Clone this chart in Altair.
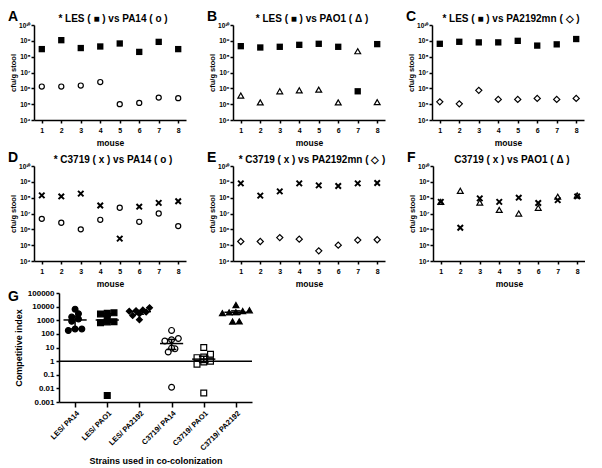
import altair as alt
import pandas as pd
import numpy as np

FONT = "Liberation Sans"
mouse = [1, 2, 3, 4, 5, 6, 7, 8]

a_les = [3.0e8, 1.1e9, 3.5e8, 4.4e8, 6.8e8, 2.0e8, 8.6e8, 3.0e8]
a_pa14 = [1.3e6, 1.3e6, 1.5e6, 2.5e6, 1.0e5, 1.2e5, 2.6e5, 2.4e5]
b_les = [4.6e8, 3.8e8, 4.2e8, 5.6e8, 6.5e8, 4.2e8, 6.5e5, 6.2e8]
b_pao1 = [3.5e5, 1.3e5, 6.5e5, 7.5e5, 8.3e5, 1.3e5, 2.2e8, 1.35e5]
c_les = [6.5e8, 8.7e8, 8.0e8, 8.0e8, 1.0e9, 5.0e8, 6.0e8, 1.3e9]
c_pa2192 = [1.4e5, 1.05e5, 7.5e5, 2.0e5, 2.0e5, 2.3e5, 2.0e5, 2.3e5]
d_c3719 = [1.4e8, 1.2e8, 1.8e8, 3.2e7, 2.6e5, 2.7e7, 4.7e7, 6.0e7]
d_pa14 = [4.6e6, 2.6e6, 1.0e6, 4.0e6, 2.3e7, 3.0e6, 1.0e7, 1.6e6]
e_c3719 = [8.0e8, 1.35e8, 2.5e8, 8.0e8, 6.0e8, 5.4e8, 8.0e8, 8.5e8]
e_pa2192 = [1.7e5, 1.7e5, 3.0e5, 2.4e5, 4.4e4, 1.0e5, 2.1e5, 2.2e5]
f_c3719 = [5.4e7, 1.25e6, 9.0e7, 5.4e7, 1.0e8, 4.6e7, 7.0e7, 1.2e8]
f_pao1 = [5.4e7, 2.7e8, 4.9e7, 1.7e7, 1.0e7, 2.3e7, 1.15e8, 1.4e8]

g_groups = ["LES/ PA14", "LES/ PAO1", "LES/ PA2192", "C3719/ PA14", "C3719/ PAO1", "C3719/ PA2192"]
g_values = [
    [230, 850, 230, 180, 6500, 1700, 3000, 1250],
    [1300, 2900, 650, 750, 780, 3200, 0.003, 3500],
    [4600, 8300, 1100, 4000, 5000, 2200, 3000, 5600],
    [30, 46, 180, 8, 0.012, 9, 4.7, 37],
    [1.0, 0.0046, 1.8, 3.2, 10, 2.0, 0.6, 0.86],
    [4700, 800, 830, 3300, 13000, 5400, 3800, 3900],
]
g_shapes = ["circle", "square", "diamond", "circle", "square", "triangle-up"]
g_fills = ["black", "black", "black", "white", "white", "black"]

XPATH = "M-1,-1L1,1M1,-1L-1,1"
SUP = "['10\u2074','10\u2075','10\u2076','10\u2077','10\u2078','10\u2079','10\u00b9\u2070']"

W, H = 152, 95


def panel(letter, title, s1, s2, shape1, shape2):
    df = pd.DataFrame({"mouse": mouse, "s1": s1, "s2": s2})
    xenc = alt.X("mouse:Q", scale=alt.Scale(domain=[0.6, 8.4], nice=False, zero=False),
                 axis=alt.Axis(values=mouse, title="mouse", labelFontSize=7, titleFontSize=8.5,
                               titlePadding=5, labelPadding=3))
    yscale = alt.Scale(type="log", domain=[1e4, 1e10], nice=False)
    yaxis = alt.Axis(values=[1e4, 1e5, 1e6, 1e7, 1e8, 1e9, 1e10], title="cfu/g stool",
                     labelExpr=SUP + "[round(log(datum.value)/LN10)-4]",
                     labelFontSize=6.5, titleFontSize=7.5, titlePadding=1, labelPadding=1)
    base = alt.Chart(df)

    def layer(field, shape):
        if shape == "X":
            m = base.mark_point(shape=XPATH, filled=False, size=30, stroke="black", strokeWidth=2, opacity=1)
        elif shape == "square":
            m = base.mark_point(shape="square", filled=True, size=40, color="black", opacity=1)
        else:
            sz = {"circle": 26, "triangle-up": 34, "diamond": 38}[shape]
            m = base.mark_point(shape=shape, filled=False, size=sz, stroke="black", strokeWidth=1.2, opacity=1)
        return m.encode(x=xenc, y=alt.Y(f"{field}:Q", scale=yscale, axis=yaxis))

    txt = pd.DataFrame({"t": [letter], "ttl": [title]})
    lab = alt.Chart(txt).mark_text(
        font=FONT, fontWeight="bold", fontSize=14, align="left", baseline="middle", color="black"
    ).encode(text="t:N", x=alt.value(-26), y=alt.value(-8))
    ttl = alt.Chart(txt).mark_text(
        font=FONT, fontWeight="bold", fontSize=10, align="center", baseline="middle", color="black"
    ).encode(text="ttl:N", x=alt.value(W / 2 + 3), y=alt.value(-6))

    return alt.layer(layer("s1", shape1), layer("s2", shape2), lab, ttl).properties(
        width=W, height=H)


pA = panel("A", "* LES ( \u25a0 ) vs PA14 ( o )", a_les, a_pa14, "square", "circle")
pB = panel("B", "* LES ( \u25a0 ) vs PAO1 ( \u0394 )", b_les, b_pao1, "square", "triangle-up")
pC = panel("C", "* LES ( \u25a0 ) vs PA2192mn ( \u25c7 )", c_les, c_pa2192, "square", "diamond")
pD = panel("D", "* C3719 ( x ) vs PA14 ( o )", d_c3719, d_pa14, "X", "circle")
pE = panel("E", "* C3719 ( x ) vs PA2192mn ( \u25c7 )", e_c3719, e_pa2192, "X", "diamond")
pF = panel("F", "C3719 ( x ) vs PAO1 ( \u0394 )", f_c3719, f_pao1, "X", "triangle-up")


# ---- panel G ----
def spread(vals, gap=0.28, step=0.21):
    logs = np.log10(np.array(vals, dtype=float))
    order = np.argsort(logs)
    offs = np.zeros(len(vals))
    clusters, cur = [], [order[0]]
    for i in order[1:]:
        if logs[i] - logs[cur[0]] <= gap:
            cur.append(i)
        else:
            clusters.append(cur)
            cur = [i]
    clusters.append(cur)
    for c in clusters:
        n = len(c)
        for k, i in enumerate(c):
            offs[i] = (k - (n - 1) / 2) * step
    return offs


rows = []
for gi, vals in enumerate(g_values):
    offs = spread(vals)
    for v, o in zip(vals, offs):
        rows.append({"gi": gi, "xp": gi + o, "v": v, "grp": g_groups[gi]})
gdf = pd.DataFrame(rows)

GW, GH = 193, 109
gx_scale = alt.Scale(domain=[-0.5, 5.5], nice=False, zero=False)
gx_axis = alt.Axis(values=list(range(6)), labelExpr=str(g_groups) + "[datum.value]",
                   labelAngle=315, labelAlign="right", labelBaseline="top", labelFontSize=7.5,
                   labelOverlap=False, labelPadding=2, labelBound=False, labelFlush=False,
                   title="Strains used in co-colonization", titleFontSize=9, titlePadding=5,
                   tickSize=5)
gy_scale = alt.Scale(type="log", domain=[0.001, 100000], nice=False)
gy_axis = alt.Axis(values=[0.001, 0.01, 0.1, 1, 10, 100, 1000, 10000, 100000],
                   labelExpr="datum.value < 1 ? format(datum.value, '~g') : format(datum.value, 'd')",
                   title="Competitive index", titleFontSize=9, labelFontSize=8, titlePadding=4)


def gx(field):
    return alt.X(field, type="quantitative", scale=gx_scale, axis=gx_axis)


def gy(field):
    return alt.Y(field, type="quantitative", scale=gy_scale, axis=gy_axis)


gbase = alt.Chart(gdf)
gpts = gbase.mark_point(filled=True, size=34, stroke="black", strokeWidth=1.2, opacity=1).encode(
    x=gx("xp"), y=gy("v"),
    shape=alt.Shape("grp:N", scale=alt.Scale(domain=g_groups, range=g_shapes), legend=None),
    fill=alt.Fill("grp:N", scale=alt.Scale(domain=g_groups, range=g_fills), legend=None),
)
agg = gbase.transform_aggregate(med="median(v)", q1="q1(v)", q3="q3(v)", groupby=["gi"])
med = agg.transform_calculate(xl="datum.gi-0.36", xr="datum.gi+0.36").mark_rule(
    color="black", strokeWidth=1.5).encode(x=gx("xl"), x2="xr:Q", y=gy("med"))
whisk = agg.mark_rule(color="black", strokeWidth=1.5).encode(x=gx("gi"), y=gy("q1"), y2="q3:Q")
cap1 = agg.transform_calculate(xl="datum.gi-0.15", xr="datum.gi+0.15").mark_rule(
    color="black", strokeWidth=1.5).encode(x=gx("xl"), x2="xr:Q", y=gy("q1"))
cap3 = agg.transform_calculate(xl="datum.gi-0.15", xr="datum.gi+0.15").mark_rule(
    color="black", strokeWidth=1.5).encode(x=gx("xl"), x2="xr:Q", y=gy("q3"))
one = alt.Chart(pd.DataFrame({"r": [1]})).mark_rule(color="black", strokeWidth=1.5).encode(y=gy("r"))
glab = alt.Chart(pd.DataFrame({"t": ["G"]})).mark_text(
    font=FONT, fontWeight="bold", fontSize=14, align="left", baseline="middle", color="black"
).encode(text="t:N", x=alt.value(-51), y=alt.value(4))

pG = alt.layer(gpts, one, whisk, cap1, cap3, med, glab).properties(width=GW, height=GH)

spacer = alt.Chart(pd.DataFrame({"a": [0]})).mark_point(opacity=0, size=1).encode(
    x=alt.value(0), y=alt.value(0)).properties(width=1, height=GH)

rowsAF = alt.vconcat(
    alt.hconcat(pA, pB, pC, spacing=21),
    alt.hconcat(pD, pE, pF, spacing=21),
    spacing=4,
)
chart = alt.vconcat(
    rowsAF,
    alt.hconcat(spacer, pG, spacing=-27),
    spacing=1,
).properties(padding={"left": 0, "top": 2, "right": 0, "bottom": 0}).configure_view(
    stroke=None).configure_axis(
    grid=False, domainColor="black", domainWidth=1.5, tickColor="black", tickWidth=1.5, tickSize=3,
    labelColor="black", titleColor="black", labelFont=FONT, titleFont=FONT,
    labelFontWeight="bold", titleFontWeight="bold",
)

chart.save("out.html", embed_options={"renderer": "svg", "actions": False})
